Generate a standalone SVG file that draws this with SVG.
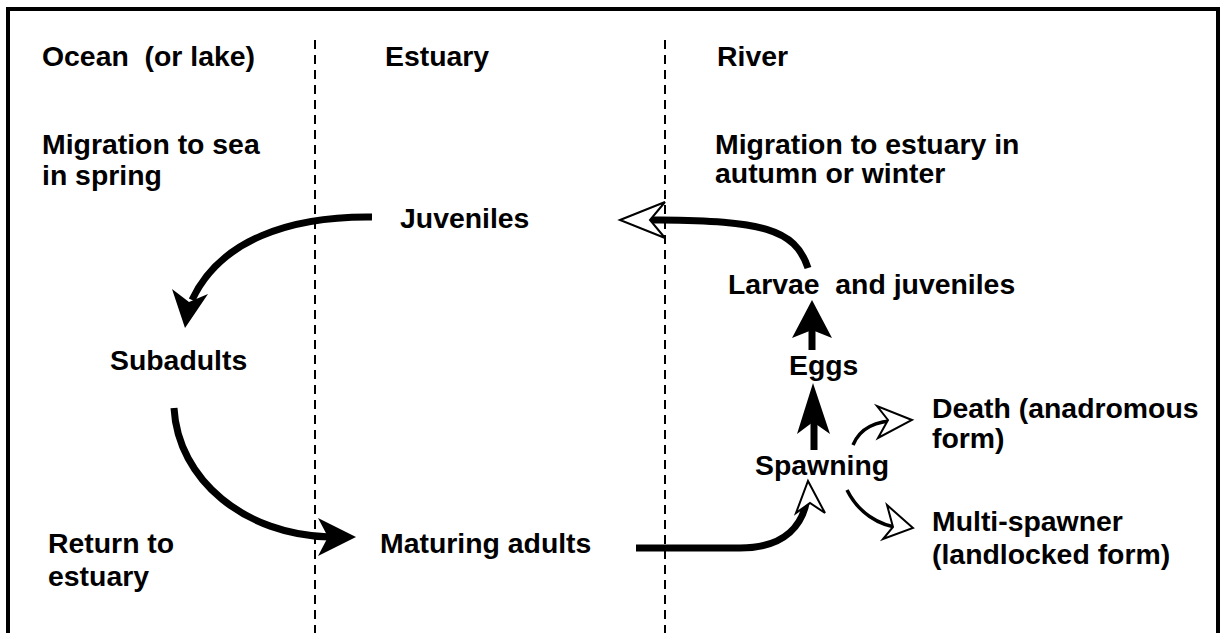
<svg xmlns="http://www.w3.org/2000/svg" width="1221" height="633" viewBox="0 0 1221 633">
<style>
text{font-family:"Liberation Sans",Arial,sans-serif;font-weight:bold;font-size:28.4px;fill:#000;white-space:pre}
.thick{fill:none;stroke:#000;stroke-width:7;stroke-linecap:butt}
.thin{fill:none;stroke:#000;stroke-width:3.5}
.head{fill:#000}
.hollow{fill:#fff;stroke:#000;stroke-width:2;stroke-linejoin:miter}
.dash{stroke:#000;stroke-width:2;stroke-dasharray:9 6}
</style>
<rect width="1221" height="633" fill="#fff"/>
<path d="M8,633 V9 H1218 V633" fill="none" stroke="#000" stroke-width="4"/>
<g id="dividers">
<line class="dash" x1="315" y1="40" x2="315" y2="633"/>
<line class="dash" x1="665" y1="40" x2="665" y2="633"/>
</g>
<g id="headers">
<text x="42" y="66" xml:space="preserve">Ocean  (or lake)</text>
<text x="385" y="66">Estuary</text>
<text x="717" y="66">River</text>
</g>
<g id="notes">
<text x="42" y="154">Migration to sea</text>
<text x="42" y="185">in spring</text>
<text x="715" y="154">Migration to estuary in</text>
<text x="715" y="183">autumn or winter</text>
<text x="48" y="553">Return to</text>
<text x="48" y="586">estuary</text>
</g>
<g id="juveniles"><text x="400" y="228">Juveniles</text></g>
<g id="subadults"><text x="110" y="370">Subadults</text></g>
<g id="maturing"><text x="380" y="553">Maturing adults</text></g>
<g id="spawning"><text x="755" y="475">Spawning</text></g>
<g id="eggs"><text x="789" y="375">Eggs</text></g>
<g id="larvae"><text x="728" y="294" xml:space="preserve">Larvae  and juveniles</text></g>
<g id="death"><text x="932" y="418">Death (anadromous</text><text x="932" y="448">form)</text></g>
<g id="multi"><text x="932" y="531">Multi-spawner</text><text x="932" y="564">(landlocked form)</text></g>
<g id="connectors">
<!-- Juveniles -> Subadults -->
<path class="thick" d="M372,217 C290,216 220,240 192,300"/>
<polygon class="head" points="185,328 172,289 189,302 208,294"/>
<!-- Subadults -> Maturing adults -->
<path class="thick" d="M174,408 C178,480 245,535 330,537"/>
<polygon class="head" points="356,537 318,518 328,537 318,556"/>
<!-- Maturing adults -> Spawning -->
<path class="thick" d="M636,548 H740 C785,548 805,525 808,492"/>
<polygon class="hollow" points="808,481 825,513 810,503 796,513"/>
<!-- Larvae -> Juveniles -->
<path class="thick" d="M808,268 C795,228 760,221 660,220 L645,220"/>
<polygon class="hollow" points="620,220 665,202 650,220 665,238"/>
<!-- Eggs -> Larvae -->
<line class="thick" x1="812" y1="350" x2="812" y2="320"/>
<polygon class="head" points="812,300 832,338 812,330 792,338"/>
<!-- Spawning -> Eggs -->
<line class="thick" x1="814" y1="450" x2="814" y2="400"/>
<polygon class="head" points="813,383 830,434 813,422 797,434"/>
<!-- Spawning -> Death -->
<path class="thin" d="M853,445 C860,428 875,421 900,420"/>
<polygon class="hollow" points="912,420 877,406 888,420 878,438"/>
<!-- Spawning -> Multi-spawner -->
<path class="thin" d="M847,490 C858,512 878,526 902,528"/>
<polygon class="hollow" points="913,528 887,505 893,527 883,539"/>
</g>
</svg>
